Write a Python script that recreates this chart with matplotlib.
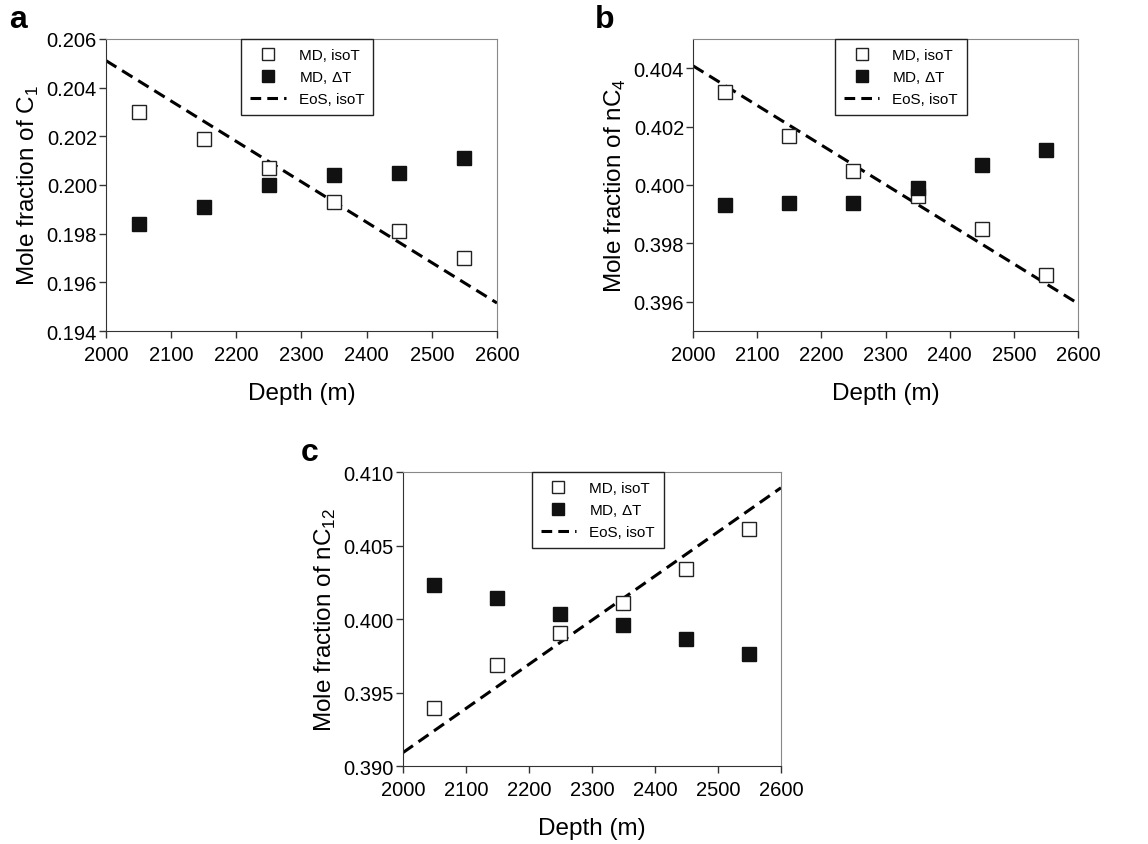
import matplotlib as mpl
mpl.use('Agg')
import matplotlib.pyplot as plt
from matplotlib.lines import Line2D

plt.rcParams['font.family'] = ['Liberation Sans', 'DejaVu Sans']
plt.rcParams['mathtext.fontset'] = 'custom'
plt.rcParams['mathtext.rm'] = 'Liberation Sans'

depth = [2050, 2150, 2250, 2350, 2450, 2550]
eos_depth = [2000, 2600]

# C1
c1_iso = [0.20299, 0.20190, 0.20069, 0.19930, 0.19810, 0.19701]
c1_dt = [0.19838, 0.19909, 0.19998, 0.20039, 0.20050, 0.20110]
c1_eos = [0.20511, 0.19515]

# nC4
c4_iso = [0.40317, 0.40169, 0.40047, 0.39961, 0.39850, 0.39691]
c4_dt = [0.39930, 0.39939, 0.39939, 0.39989, 0.40070, 0.40120]
c4_eos = [0.40408, 0.39594]

# nC12
c12_iso = [0.39397, 0.39685, 0.39907, 0.40111, 0.40338, 0.40610]
c12_dt = [0.40231, 0.40141, 0.40032, 0.39959, 0.39862, 0.39764]
c12_eos = [0.39091, 0.40893]

fig = plt.figure(figsize=(11.48, 8.45), dpi=100)

def panel(rect, letter, iso, dt, eos, ylim, yticks, ylabel, letter_xy, leg_x):
	ax = fig.add_axes(rect)
	ax.plot(eos_depth, eos, color='black', lw=2.2, dashes=(4, 2.2), zorder=2)
	ax.plot(depth, iso, ls='none', marker='s', ms=9.5, mfc='white', mec='#222222', mew=1.0, zorder=3)
	ax.plot(depth, dt, ls='none', marker='s', ms=9.5, mfc='#111111', mec='#111111', mew=1.0, zorder=3)
	ax.set_xlim(2000, 2600)
	ax.set_ylim(*ylim)
	ax.set_xticks(range(2000, 2601, 100))
	ax.set_yticks(yticks)
	ax.set_yticklabels(['%.3f' % v for v in yticks])
	ax.tick_params(direction='out', length=5, width=1, labelsize=14.5, color='#333333')
	ax.tick_params(axis='x', pad=5)
	ax.tick_params(axis='y', pad=1.5)
	for s in ['left', 'bottom']:
		ax.spines[s].set_color('#333333')
	for s in ['top', 'right']:
		ax.spines[s].set_color('#888888')
	ax.set_xlabel('Depth (m)', fontsize=17.5, labelpad=13)
	ax.set_ylabel(ylabel, fontsize=17.5, labelpad=4)

	handles = [Line2D([], [], ls='none', marker='s', ms=8, mfc='white', mec='#222222'),
			Line2D([], [], ls='none', marker='s', ms=8, mfc='#111111', mec='#111111'),
			Line2D([], [], color='black', lw=2.2, dashes=(3.5, 2))]
	leg = ax.legend(handles, ['MD, isoT', 'MD, $\\Delta$T', 'EoS, isoT'], loc='upper center',
			bbox_to_anchor=(leg_x, 1.0), fontsize=11, fancybox=False, edgecolor='#222222',
			framealpha=1, borderaxespad=0, handlelength=2.3, handletextpad=0.85,
			labelspacing=0.45, borderpad=0.6)
	leg.get_frame().set_linewidth(1.0)
	fig.text(letter_xy[0], letter_xy[1], letter, fontsize=23, fontweight='bold', ha='center', va='center')
	return ax

panel([0.0923, 0.6071, 0.3406, 0.3456], 'a', c1_iso, c1_dt, c1_eos,
	(0.194, 0.206), [0.194 + 0.002 * i for i in range(7)],
	'Mole fraction of C$_1$', (18 / 1148, 1 - 20 / 845), 0.515)
panel([0.6037, 0.6071, 0.3354, 0.3456], 'b', c4_iso, c4_dt, c4_eos,
	(0.395, 0.405), [0.396 + 0.002 * i for i in range(5)],
	'Mole fraction of nC$_4$', (605 / 1148, 1 - 20 / 845), 0.54)
panel([0.3510, 0.0923, 0.3293, 0.3479], 'c', c12_iso, c12_dt, c12_eos,
	(0.390, 0.410), [0.390 + 0.005 * i for i in range(5)],
	'Mole fraction of nC$_{12}$', (310 / 1148, 1 - 453 / 845), 0.515)

plt.savefig('out.png', dpi=100)
